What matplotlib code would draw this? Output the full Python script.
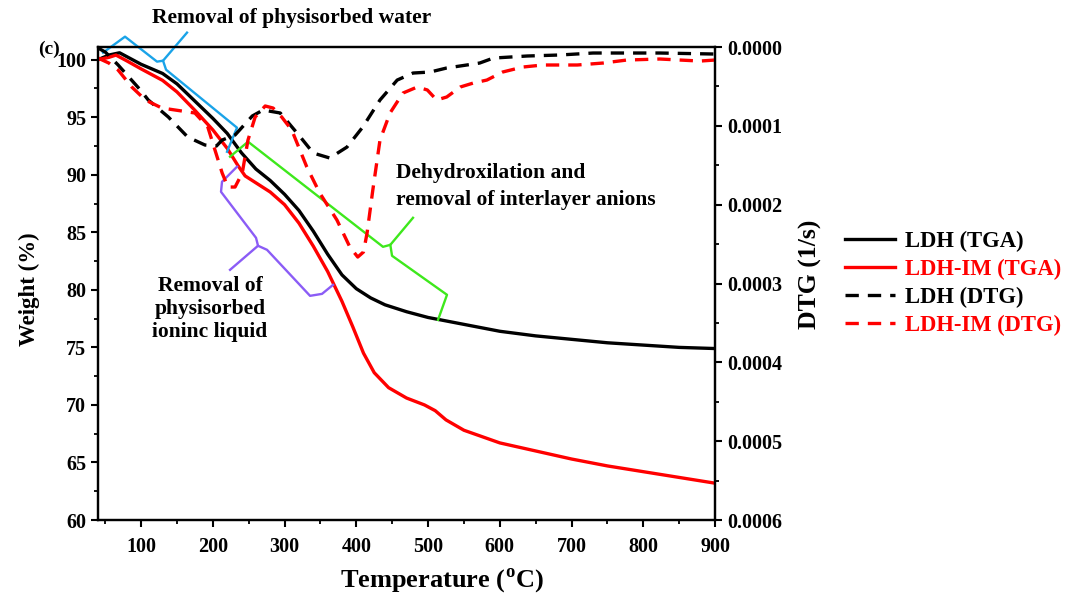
import matplotlib
matplotlib.use('Agg')
import matplotlib.pyplot as plt
from matplotlib.ticker import MultipleLocator, FormatStrFormatter

plt.rcParams['font.family'] = ['Liberation Serif', 'DejaVu Serif']
plt.rcParams['font.weight'] = 'bold'
plt.rcParams['mathtext.fontset'] = 'custom'
plt.rcParams['mathtext.rm'] = 'Liberation Serif:bold'

# --- TGA: weight (%) vs temperature (C) ---
t_ldh = [40, 55, 70, 85, 100, 130, 150, 175, 200, 220, 240, 260, 280, 300, 320, 340,
         360, 380, 400, 420, 440, 470, 500, 550, 600, 650, 700, 750, 800, 850, 900]
w_ldh = [100.0, 100.4, 100.6, 100.1, 99.6, 98.8, 97.9, 96.4, 94.9, 93.6, 91.9, 90.5,
         89.5, 88.3, 86.9, 85.1, 83.1, 81.3, 80.1, 79.3, 78.7, 78.1, 77.6, 77.0, 76.4,
         76.0, 75.7, 75.4, 75.2, 75.0, 74.9]

t_im = [40, 55, 65, 80, 100, 130, 150, 175, 200, 220, 235, 245, 260, 280, 300, 320,
        340, 360, 380, 395, 410, 425, 445, 470, 495, 510, 525, 550, 600, 650, 700,
        750, 800, 850, 900]
w_im = [100.0, 100.2, 100.4, 99.9, 99.2, 98.2, 97.2, 95.6, 93.9, 92.3, 90.8, 89.9,
        89.3, 88.5, 87.4, 85.8, 83.8, 81.6, 79.0, 76.8, 74.5, 72.8, 71.5, 70.6, 70.0,
        69.5, 68.7, 67.8, 66.7, 66.0, 65.3, 64.7, 64.2, 63.7, 63.2]

# --- DTG (1/s) ---
td_ldh = [40, 50, 68, 99, 110, 138, 165, 189, 205, 213, 231, 255, 270, 294, 322, 340,
          363, 387, 409, 433, 457, 479, 503, 526, 554, 572, 591, 638, 684, 730, 823, 900]
d_ldh = [0.0000013, 0.0000063, 0.0000228, 0.0000545, 0.0000672, 0.0000888, 0.0001142,
         0.0001243, 0.0001256, 0.0001180, 0.0001116, 0.0000875, 0.0000799, 0.0000837,
         0.0001142, 0.0001345, 0.0001408, 0.0001269, 0.0001015, 0.0000672, 0.0000419,
         0.0000330, 0.0000317, 0.0000266, 0.0000228, 0.0000203, 0.0000140, 0.0000114,
         0.0000101, 0.0000076, 0.0000076, 0.0000089]

td_im = [40, 55, 68, 87, 106, 129, 157, 175, 193, 203, 213, 221, 231, 241, 249, 259,
         273, 284, 296, 310, 331, 349, 373, 391, 402, 410, 415, 423, 433, 447, 465, 485,
         499, 512, 526, 545, 563, 582, 604, 632, 660, 708, 744, 777, 823, 879, 900]
d_im = [0.0000140, 0.0000203, 0.0000292, 0.0000507, 0.0000672, 0.0000774, 0.0000812,
        0.0000837, 0.0001015, 0.0001307, 0.0001598, 0.0001776, 0.0001776, 0.0001598,
        0.0001180, 0.0000888, 0.0000748, 0.0000774, 0.0000888, 0.0001053, 0.0001522,
        0.0001852, 0.0002195, 0.0002537, 0.0002664, 0.0002600, 0.0002359, 0.0001814,
        0.0001180, 0.0000837, 0.0000584, 0.0000507, 0.0000545, 0.0000672, 0.0000634,
        0.0000507, 0.0000457, 0.0000419, 0.0000317, 0.0000254, 0.0000228, 0.0000228,
        0.0000203, 0.0000165, 0.0000152, 0.0000178, 0.0000165]

# brackets marking the decomposition steps, (temperature, weight) pairs
water_a = [(47.0, 100.61), (77.6, 102.0), (122.2, 99.83), (130.6, 99.91), (164.0, 102.35)]
water_b = [(130.6, 99.91), (134.8, 99.13), (233.7, 94.09), (219.8, 92.0)]
dehyd_a = [(224.0, 91.57), (249.1, 92.87), (437.2, 83.74), (447.4, 83.91), (479.0, 86.26)]
dehyd_b = [(447.4, 83.91), (449.8, 82.96), (526.4, 79.57), (513.9, 77.39)]
ionic_a = [(233.7, 90.70), (212.8, 89.39), (211.4, 88.52), (260.2, 84.52), (263.0, 83.83),
           (224.0, 81.74)]
ionic_b = [(263.0, 83.83), (275.5, 83.48), (335.5, 79.48), (352.2, 79.65), (367.5, 80.43)]

W_LO, W_HI = 60, 101.1
D_MAX = 0.0006

fig = plt.figure(figsize=(10.68, 5.96), dpi=100)
ax = fig.add_axes([0.0918, 0.1275, 0.5777, 0.7936])
ax2 = ax.twinx()

l1, = ax.plot(t_ldh, w_ldh, color='black', lw=2.4, label='LDH (TGA)')
l2, = ax.plot(t_im, w_im, color='#ff0000', lw=2.4, label='LDH-IM (TGA)')
l3, = ax2.plot(td_ldh, d_ldh, color='black', lw=2.4, dashes=(4, 2.7), label='LDH (DTG)')
l4, = ax2.plot(td_im, d_im, color='#ff0000', lw=2.4, dashes=(4, 2.7), label='LDH-IM (DTG)')

# brackets are given in weight units, map them onto the inverted DTG scale
for pts, col in [(water_a, '#1aa3e8'), (water_b, '#1aa3e8'),
                 (dehyd_a, '#3ee81c'), (dehyd_b, '#3ee81c'),
                 (ionic_a, '#8b5cf6'), (ionic_b, '#8b5cf6')]:
    xs, ys = zip(*pts)
    ax2.plot(xs, [D_MAX * (W_HI - y) / (W_HI - W_LO) for y in ys], color=col, lw=1.7,
             clip_on=False, zorder=1)

ax.set_xlim(40, 900)
ax.set_ylim(W_LO, W_HI)
ax2.set_ylim(D_MAX, 0)

ax.set_xticks([100, 200, 300, 400, 500, 600, 700, 800, 900])
ax.xaxis.set_minor_locator(MultipleLocator(50))
ax.yaxis.set_major_locator(MultipleLocator(5))
ax.yaxis.set_minor_locator(MultipleLocator(2.5))
ax2.yaxis.set_major_locator(MultipleLocator(0.0001))
ax2.yaxis.set_minor_locator(MultipleLocator(0.00005))
ax2.yaxis.set_major_formatter(FormatStrFormatter('%.4f'))

for a in (ax, ax2):
    for s in a.spines.values():
        s.set_linewidth(1.6)
    a.tick_params(which='major', length=5, width=1.5, labelsize=14.5, direction='out')
    a.tick_params(which='minor', length=3, width=1.3, direction='out')
ax.tick_params(axis='y', right=False)
ax.tick_params(axis='x', pad=7)

ax.set_xlabel('Temperature ($^{\\mathrm{o}}$C)', fontsize=19, fontweight='bold')
ax.set_ylabel('Weight (%)', fontsize=16.5, fontweight='bold')
ax2.set_ylabel('DTG (1/s)', fontsize=18.5, fontweight='bold')
ax.xaxis.set_label_coords(0.558, -0.098)
ax.yaxis.set_label_coords(-0.094, 0.488)
ax2.yaxis.set_label_coords(1.136, 0.52)

fig.text(0.036, 0.918, '(c)', fontsize=14, fontweight='bold', ha='left', va='center')
fig.text(0.273, 0.970, 'Removal of physisorbed water', fontsize=15.5, fontweight='bold',
         ha='center', va='center')
ax.text(456, 90.15, 'Dehydroxilation and', fontsize=15.5, fontweight='bold',
        ha='left', va='center')
ax.text(456, 87.8, 'removal of interlayer anions', fontsize=15.5, fontweight='bold',
        ha='left', va='center')
ax.text(196, 78.3, 'Removal of\nphysisorbed\nioninc liquid', fontsize=15.5,
        fontweight='bold', ha='center', va='center', linespacing=1.2)

fig.legend(handles=[l1, l2, l3, l4], loc='center left', bbox_to_anchor=(0.772, 0.524),
           frameon=False, handlelength=2.2, handletextpad=0.45,
           labelspacing=0.3, labelcolor='linecolor', prop={'weight': 'bold', 'size': 16.3})

fig.savefig('out.png', dpi=100)
